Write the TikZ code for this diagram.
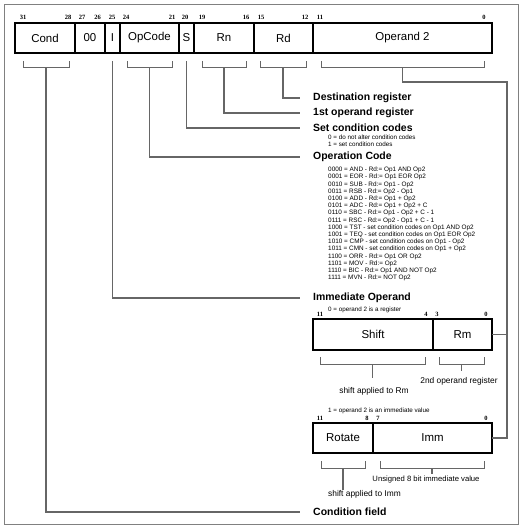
\documentclass[tikz,border=0pt]{standalone}
\usepackage{fontspec}
\setmainfont{Liberation Sans}
\newfontfamily\bitfont{Liberation Serif}
\newcommand\fieldbracket[4]{%
  \draw[brk] (#1,#3) -- (#1,#3+7) -- (#2,#3+7) -- (#2,#3);
  \coordinate (#4) at ({(#1+#2)/2},#3+7);}
\tikzset{
  field/.style={draw=black, line width=1.6bp, minimum height=30bp, inner sep=0pt, outer sep=0pt,
    font=\fontsize{11.5}{13}\selectfont},
  bitnum/.style={font=\bitfont\bfseries\fontsize{6.5}{7}\selectfont, inner sep=0pt, anchor=center},
  conn/.style={draw=black!60, line width=1.1bp},
  brk/.style={draw=black!60, line width=1bp},
  title/.style={font=\bfseries\fontsize{10.5}{12}\selectfont, anchor=west, inner sep=0pt},
  small/.style={font=\fontsize{6.3}{7}\selectfont, anchor=west, inner sep=0pt},
  caption/.style={font=\fontsize{8.4}{10}\selectfont, inner sep=0pt},
}
\begin{document}
\begin{tikzpicture}[x=1bp,y=-1bp]
\useasboundingbox (0,0) rectangle (527,531);
\draw[black!50, line width=0.8bp] (4,4) rectangle (518,524);

% main instruction word
\node[field, minimum width=60bp] (cond) at (45,38) {Cond};
\node[field, minimum width=30bp] (zz) at (90,38) {00};
\node[field, minimum width=15bp] (ibit) at (112.5,38) {I};
\node[field, minimum width=59bp] (opc) at (149.5,38) {OpCode};
\node[field, minimum width=15bp] (sbit) at (186.5,38) {S};
\node[field, minimum width=60bp] (rn) at (224,38) {Rn};
\node[field, minimum width=59bp] (rd) at (283.5,38) {Rd};
\node[field, minimum width=179bp] (op2) at (402.5,38) {Operand 2};

% bit numbers
\foreach \x/\n in {23/31,68/28,82/27,97.5/26,112/25,126/24,172/21,185/20,202/19,246/16,261/15,305/12,320/11,484/0}
  \node[bitnum] (b\n) at (\x,17) {\n};

% brackets under fields
\fieldbracket{23}{69}{61}{condb}
\fieldbracket{127}{172}{61}{opcb}
\fieldbracket{202}{246}{61}{rnb}
\fieldbracket{260}{306}{61}{rdb}
\fieldbracket{321}{484}{61}{op2b}
\coordinate (ist) at (112.5,61);
\coordinate (sst) at (186.5,61);

% right-hand titles
\node[title] (dest) at (313,98) {Destination register};
\node[title] (first) at (313,113) {1st operand register};
\node[title] (setcc) at (313,128) {Set condition codes};
\node[small] (s0) at (328,137) {0 = do not alter condition codes};
\node[small] (s1) at (328,144) {1 = set condition codes};
\node[title] (opcode) at (313,157) {Operation Code};
\foreach \t [count=\i from 0] in {
  {0000 = AND - Rd:= Op1 AND Op2},
  {0001 = EOR - Rd:= Op1 EOR Op2},
  {0010 = SUB - Rd:= Op1 - Op2},
  {0011 = RSB - Rd:= Op2 - Op1},
  {0100 = ADD - Rd:= Op1 + Op2},
  {0101 = ADC - Rd:= Op1 + Op2 + C},
  {0110 = SBC - Rd:= Op1 - Op2 + C - 1},
  {0111 = RSC - Rd:= Op2 - Op1 + C - 1},
  {1000 = TST - set condition codes on Op1 AND Op2},
  {1001 = TEQ - set condition codes on Op1 EOR Op2},
  {1010 = CMP - set condition codes on Op1 - Op2},
  {1011 = CMN - set condition codes on Op1 + Op2},
  {1100 = ORR - Rd:= Op1 OR Op2},
  {1101 = MOV - Rd:= Op2},
  {1110 = BIC - Rd:= Op1 AND NOT Op2},
  {1111 = MVN - Rd:= NOT Op2}}
  \node[small, font=\fontsize{6.4}{7}\selectfont] (code\i) at (328,170+7.2*\i) {\t};
\node[title] (immop) at (313,298) {Immediate Operand};
\node[title] (condf) at (313,512) {Condition field};

% connectors to titles
\draw[conn] (rdb) |- ([xshift=-13bp]dest.west);
\draw[conn] (rnb) |- ([xshift=-13bp]first.west);
\draw[conn] (sst) |- ([xshift=-13bp]setcc.west);
\draw[conn] (opcb) |- ([xshift=-13bp]opcode.west);
\draw[conn] (ist) |- ([xshift=-13bp]immop.west);
\draw[conn] (condb) |- ([xshift=-13bp]condf.west);

% register operand form
\node[small] (reg0) at (328,310) {0 = operand 2 is a register};
\foreach \x/\n/\m in {320/11/a,426/4/b,437/3/c,486/0/d}
  \node[bitnum] (r\m) at (\x,314) {\n};
\node[field, minimum width=120bp, minimum height=31bp] (shift) at (373,334.5) {Shift};
\node[field, minimum width=59bp, minimum height=31bp] (rm) at (462.5,334.5) {Rm};
\fieldbracket{320}{425}{357}{shb}
\fieldbracket{439}{484}{357}{rmb}
\node[caption] (shcap) at (374,391) {shift applied to Rm};
\node[caption] (rmcap) at (459,381) {2nd operand register};
\draw[conn] (shb) -- ++(0,14);
\draw[conn] (rmb) -- ++(0,7);

% immediate operand form
\node[small] (imm1) at (328,411) {1 = operand 2 is an immediate value};
\foreach \x/\n/\m in {320/11/a,367/8/b,378/7/c,486/0/d}
  \node[bitnum] (i\m) at (\x,418) {\n};
\node[field, minimum width=60bp] (rot) at (343,438) {Rotate};
\node[field, minimum width=119bp] (imm) at (432.5,438) {Imm};
\fieldbracket{321}{365}{461}{rotb}
\fieldbracket{380}{484}{461}{immb}
\node[caption, anchor=west] (rotcap) at (328,494) {shift applied to Imm};
\node[caption, font=\fontsize{7.7}{9}\selectfont] (immcap) at (426,480) {Unsigned 8 bit immediate value};
\draw[conn] (rotb) -- ++(0,22);
\draw[conn] (immb) -- ++(0,6);

% operand 2 bus
\coordinate (bus) at (507,82);
\draw[conn] (op2b) |- (bus) |- (imm.east);
\draw[conn] (rm.east) -- (rm.east -| bus);
\end{tikzpicture}
\end{document}
